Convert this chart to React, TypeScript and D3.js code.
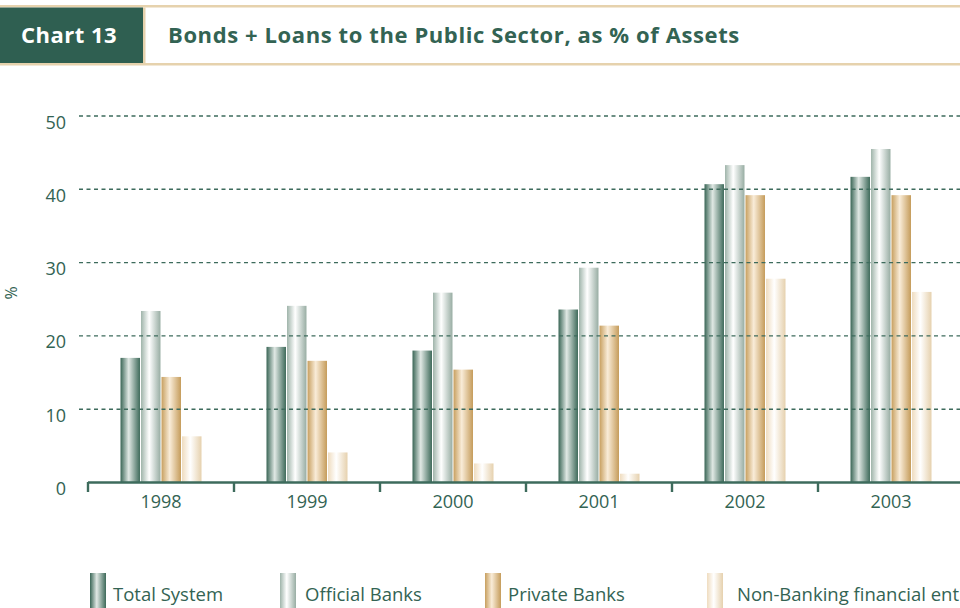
import React from "react";
import * as d3 from "d3";

const years = ["1998", "1999", "2000", "2001", "2002", "2003"];
const seriesNames = ["Total System", "Official Banks", "Private Banks", "Non-Banking financial entities"];
const totalSystem = [17.0, 18.5, 18.0, 23.6, 40.7, 41.7];
const officialBanks = [23.4, 24.1, 25.9, 29.3, 43.3, 45.5];
const privateBanks = [14.4, 16.6, 15.4, 21.4, 39.2, 39.2];
const nonBanking = [6.3, 4.1, 2.6, 1.2, 27.8, 26.0];
const yTicks = [0, 10, 20, 30, 40, 50];

const seriesValues = [totalSystem, officialBanks, privateBanks, nonBanking];
const gradStops: [string, string, string][] = [
  ["#3a6656", "#e0e8e4", "#3e6a5a"],
  ["#9fb4aa", "#ffffff", "#98ada3"],
  ["#c79f5f", "#f9ecd8", "#c59c5b"],
  ["#efdcbf", "#ffffff", "#e6d1ae"],
];

const GREEN = "#336353";
const TAN = "#e6d2ad";
const FONT = "'Open Sans', 'Noto Sans', sans-serif";

export default function App() {
  const W = 960, H = 608;
  const x = d3.scaleBand<string>().domain(years).range([88, 964]).padding(0);
  const inner = d3.scaleBand<number>().domain([0, 1, 2, 3]).range([0, 81]).paddingInner(0.05);
  const y = d3.scaleLinear().domain([0, 50]).range([482.5, 116]);
  const groupOffset = (x.bandwidth() - 81) / 2;

  const legendX = [90, 280, 485, 707];
  const legendTextX = [113, 305, 508, 737];

  return (
    <svg width={W} height={H} style={{ position: "absolute", left: 0, top: 0, background: "#fff" }} fontFamily={FONT}>
      <defs>
        {gradStops.map((g, i) => (
          <linearGradient key={i} id={`g${i}`} x1="0" x2="1" y1="0" y2="0">
            <stop offset="0%" stopColor={g[0]} />
            <stop offset="42%" stopColor={g[1]} />
            <stop offset="100%" stopColor={g[2]} />
          </linearGradient>
        ))}
      </defs>
      <rect x={0} y={0} width={W} height={H} fill="#fff" />
      {/* header */}
      <rect x={0} y={5} width={W} height={2.5} fill={TAN} />
      <rect x={0} y={63} width={W} height={2.5} fill={TAN} />
      <rect x={0} y={7.5} width={143} height={55.5} fill="#2f5f51" />
      <rect x={143} y={7.5} width={2.5} height={55.5} fill={TAN} />
      <text x={69} y={43} textAnchor="middle" fill="#fff" fontWeight="bold" fontSize={22} letterSpacing={0.5}>Chart 13</text>
      <text x={168} y={43} fill={GREEN} fontWeight="bold" fontSize={22} letterSpacing={0.6}>
        Bonds + Loans to the Public Sector, as % of Assets
      </text>

      {/* y axis labels */}
      {yTicks.map((t) => (
        <text key={t} x={66} y={y(t) + 12.5} textAnchor="end" fill={GREEN} fontSize={18}>{t}</text>
      ))}
      <text transform={`translate(17,${293}) rotate(-90)`} textAnchor="middle" fill={GREEN} fontSize={16}>%</text>

      {/* bars */}
      {years.map((yr, gi) => (
        <g key={yr}>
          {seriesValues.map((vals, si) => {
            const bx = (x(yr) as number) + groupOffset + (inner(si) as number);
            return (
              <rect key={si} x={bx} y={y(vals[gi])} width={inner.bandwidth()} height={y(0) - y(vals[gi])} fill={`url(#g${si})`} />
            );
          })}
        </g>
      ))}

      {/* gridlines on top */}
      {yTicks.filter((t) => t > 0).map((t) => (
        <line key={t} x1={79} x2={W} y1={y(t)} y2={y(t)} stroke="#3d6b5c" strokeWidth={1.4} strokeDasharray="4,3.5" />
      ))}

      {/* x axis */}
      <line x1={88} x2={W} y1={482.5} y2={482.5} stroke="#3d6b5c" strokeWidth={2.6} />
      {years.map((yr) => (
        <line key={yr} x1={(x(yr) as number)} x2={(x(yr) as number)} y1={482} y2={492} stroke="#3d6b5c" strokeWidth={2.4} />
      ))}
      {years.map((yr) => (
        <text key={yr} x={(x(yr) as number) + x.bandwidth() / 2} y={508} textAnchor="middle" fill={GREEN} fontSize={18}>{yr}</text>
      ))}

      {/* legend */}
      {seriesNames.map((n, i) => (
        <g key={n}>
          <rect x={legendX[i]} y={573} width={16} height={40} fill={`url(#g${i})`} />
          <text x={legendTextX[i]} y={601} fill={GREEN} fontSize={18.5}>{n}</text>
        </g>
      ))}
    </svg>
  );
}
